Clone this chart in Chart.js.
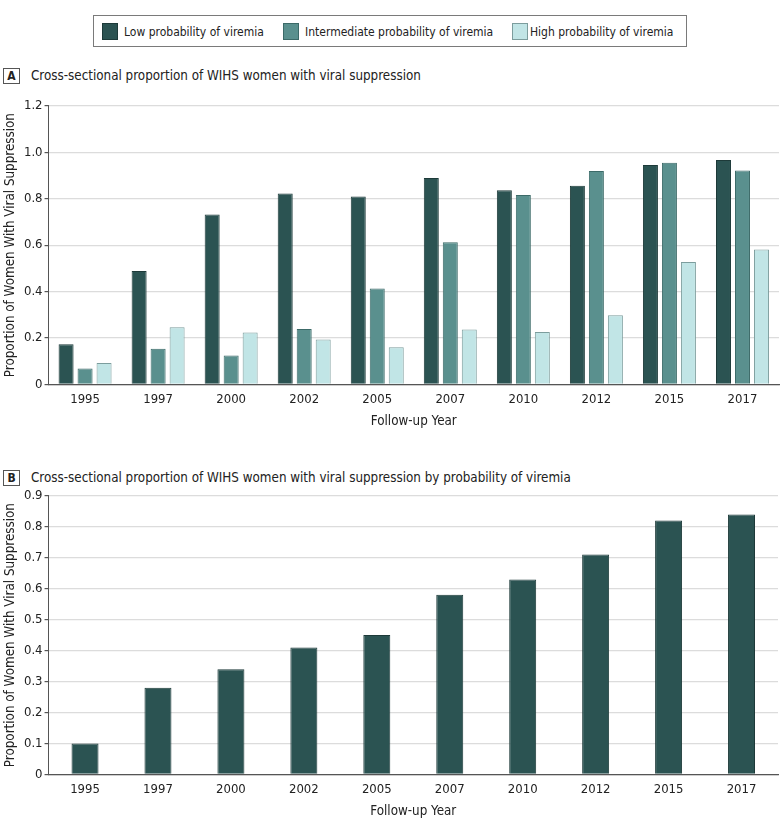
<!DOCTYPE html>
<html>
<head>
<meta charset="utf-8">
<script src="https://cdn.jsdelivr.net/npm/chart.js@4"></script>
<style>
  html, body { margin: 0; padding: 0; background: #fff; }
  body { width: 780px; height: 829px; position: relative; overflow: hidden;
         font-family: 'DejaVu Sans Condensed', 'DejaVu Sans', sans-serif; color: #222; }
  .legend { position: absolute; left: 93px; top: 15px; width: 592px; height: 30px;
            border: 1px solid #7a7a7a; }
  .li { position: absolute; top: 7px; font-size: 12px; line-height: 18px; white-space: nowrap; }
  .sw { position: absolute; top: 7px; width: 16px; height: 17px; box-sizing: border-box; border: 1px solid #4d4d4d; }
  .panel { position: absolute; left: 3px; width: 17px; height: 16px; box-sizing: border-box;
           border: 1px solid #555; font-size: 12px; font-weight: bold; text-align: center; line-height: 14px; }
  .ptitle { position: absolute; left: 31px; font-size: 13.3px; line-height: 18px; white-space: nowrap; }
  .cw { position: absolute; left: 0; width: 780px; }
</style>
</head>
<body>
<div class="legend">
  <div class="sw" style="left:8px;background:#2b5352;border-color:#1d3a39"></div>
  <div class="li" style="left:30px">Low probability of viremia</div>
  <div class="sw" style="left:189px;background:#5a908e;border-color:#3c6a68"></div>
  <div class="li" style="left:211px">Intermediate probability of viremia</div>
  <div class="sw" style="left:418px;background:#c1e5e6;border-color:#7c9d9d"></div>
  <div class="li" style="left:436px">High probability of viremia</div>
</div>

<div class="panel" style="top:68px">A</div>
<div class="ptitle" style="top:67px">Cross-sectional proportion of WIHS women with viral suppression</div>
<div class="cw" style="top:96px;height:338px"><canvas id="chartA"></canvas></div>

<div class="panel" style="top:470px">B</div>
<div class="ptitle" style="top:469px">Cross-sectional proportion of WIHS women with viral suppression by probability of viremia</div>
<div class="cw" style="top:486px;height:338px"><canvas id="chartB"></canvas></div>

<script>
// ---- data ----
const years = ['1995', '1997', '2000', '2002', '2005', '2007', '2010', '2012', '2015', '2017'];
const seriesNames = ['Low probability of viremia', 'Intermediate probability of viremia', 'High probability of viremia'];
const lowProb = [0.173, 0.489, 0.732, 0.822, 0.809, 0.889, 0.836, 0.856, 0.945, 0.967];
const intermediateProb = [0.069, 0.154, 0.125, 0.239, 0.413, 0.612, 0.816, 0.919, 0.955, 0.921];
const highProb = [0.092, 0.246, 0.224, 0.194, 0.160, 0.237, 0.226, 0.298, 0.527, 0.581];
const overallProb = [0.10, 0.28, 0.34, 0.41, 0.45, 0.58, 0.63, 0.71, 0.82, 0.84];
const yTicksA = [0, 0.2, 0.4, 0.6, 0.8, 1.0, 1.2];
const yTicksB = [0, 0.1, 0.2, 0.3, 0.4, 0.5, 0.6, 0.7, 0.8, 0.9];
const yTitle = 'Proportion of Women With Viral Suppression';
const xTitle = 'Follow-up Year';

// ---- styles ----
const FONT = "'DejaVu Sans Condensed', 'DejaVu Sans', sans-serif";
const fills = ['#2b5352', '#5a908e', '#c1e5e6'];
const borders = ['#1d3a39', '#3c6a68', '#7c9d9d'];

function scales(ticksArr, max) {
  return {
    x: {
      grid: { display: false, drawTicks: false },
      border: { display: true, color: '#555', width: 1.2 },
      ticks: { color: '#222', font: { family: FONT, size: 13 }, padding: 7 },
      title: { display: true, text: xTitle, color: '#222', font: { family: FONT, size: 13.3 }, padding: { top: 0, bottom: 4 } }
    },
    y: {
      min: 0, max: max,
      afterBuildTicks: (ax) => { ax.ticks = ticksArr.map(v => ({ value: v })); },
      grid: { color: '#dcdcdc', lineWidth: 1.2, tickColor: '#555', tickLength: 4, drawTicks: true },
      border: { display: true, color: '#555', width: 1 },
      ticks: { color: '#222', font: { family: FONT, size: 13 }, padding: 2,
               callback: (v) => v === 0 ? '0' : Number(v).toFixed(1) },
      title: { display: true, text: yTitle, color: '#222', font: { family: FONT, size: 13.3 }, padding: { top: 3, bottom: 3 } }
    }
  };
}

const common = {
  responsive: true,
  maintainAspectRatio: false,
  animation: false,
  plugins: { legend: { display: false }, tooltip: { enabled: false } },
};

new Chart(document.getElementById('chartA'), {
  type: 'bar',
  data: {
    labels: years,
    datasets: [lowProb, intermediateProb, highProb].map((d, i) => ({
      label: seriesNames[i], data: d,
      backgroundColor: fills[i], borderColor: borders[i], borderWidth: 1,
      categoryPercentage: 0.78, barPercentage: 0.79
    }))
  },
  options: Object.assign({}, common, {
    layout: { padding: { top: 2, left: 0, right: 1, bottom: 0 } },
    scales: scales(yTicksA, 1.2)
  })
});

new Chart(document.getElementById('chartB'), {
  type: 'bar',
  data: {
    labels: years,
    datasets: [{
      label: 'Overall', data: overallProb,
      backgroundColor: fills[0], borderColor: borders[0], borderWidth: 1,
      categoryPercentage: 0.37, barPercentage: 1
    }]
  },
  options: Object.assign({}, common, {
    layout: { padding: { top: 2, left: 0, right: 2, bottom: 0 } },
    scales: scales(yTicksB, 0.9)
  })
});
</script>
</body>
</html>
